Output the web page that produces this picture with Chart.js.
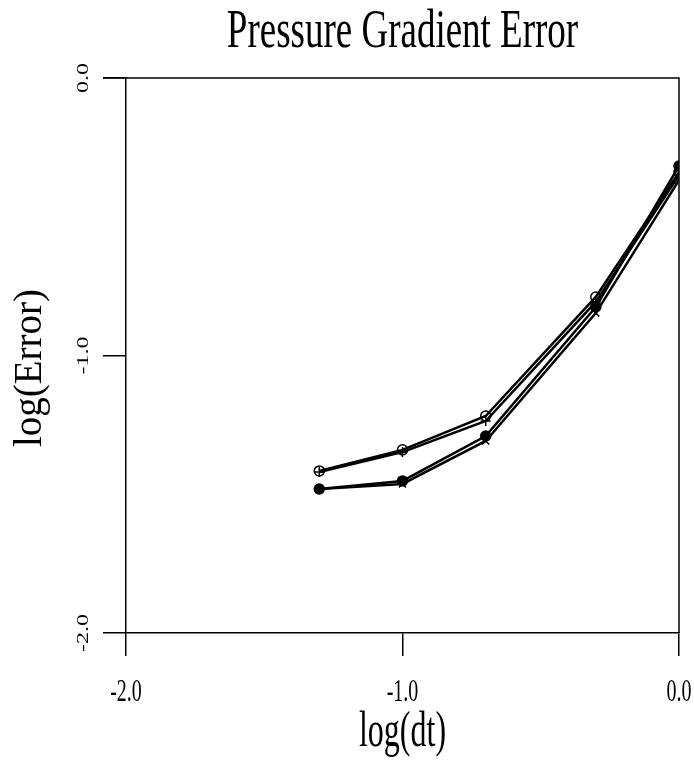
<!DOCTYPE html>
<html lang="en">

<head>
    <meta charset="UTF-8">
    <title>Pressure Gradient Error</title>
    <script src="https://cdn.jsdelivr.net/npm/chart.js@4.4.0/dist/chart.umd.min.js"></script>
    <style>
        body { margin: 0; background: #fff; }
        #wrap { width: 694px; height: 760px; }
    </style>
</head>

<body>
    <div id="wrap"><canvas id="errChart"></canvas></div>
    <script>
        // log10 of the time steps
        const logDt = [-1.301, -1.0, -0.699, -0.301, 0.0];

        // log10 of the error, one array per run
        const errOpen = [-1.416, -1.340, -1.218, -0.789, -0.339];
        const errPlus = [-1.420, -1.348, -1.236, -0.807, -0.350];
        const errFilled = [-1.481, -1.452, -1.290, -0.825, -0.317];
        const errCross = [-1.481, -1.463, -1.308, -0.847, -0.368];

        const titleText = 'Pressure Gradient Error';
        const xTitle = 'log(dt)';
        const yTitle = 'log(Error)';

        const serif = '"Liberation Serif", "DejaVu Serif", serif';

        const toPoints = ys => ys.map((y, i) => ({ x: logDt[i], y: y }));

        const makeSet = (label, ys, style, fill) => ({
            label: label,
            data: toPoints(ys),
            borderColor: '#000',
            borderWidth: 2.5,
            pointStyle: style,
            pointRadius: 5,
            pointBorderWidth: 1.5,
            pointBorderColor: '#000',
            pointBackgroundColor: fill,
            tension: 0
        });

        // the scanned figure has tall, narrow lettering, so text gets its own
        // scale: "along" runs with the text, "across" is the glyph height
        function drawText(ctx, text, x, y, size, along, across, rotate) {
            ctx.save();
            ctx.translate(x, y);
            if (rotate) {
                ctx.rotate(-Math.PI / 2);
            }
            ctx.scale(along, across);
            ctx.font = size + 'px ' + serif;
            ctx.fillStyle = '#000';
            ctx.textAlign = 'center';
            ctx.textBaseline = 'alphabetic';
            ctx.fillText(text, 0, 0);
            ctx.restore();
        }

        const textPlugin = {
            id: 'scanText',
            afterDraw(chart) {
                const ctx = chart.ctx;
                const area = chart.chartArea;
                const xs = chart.scales.x;
                const ys = chart.scales.y;

                // closing box lines
                ctx.save();
                ctx.strokeStyle = '#000';
                ctx.lineWidth = 1.5;
                ctx.beginPath();
                ctx.moveTo(area.left - 23, area.top);
                ctx.lineTo(area.right, area.top);
                ctx.lineTo(area.right, area.bottom);
                ctx.stroke();
                ctx.restore();

                drawText(ctx, titleText, (area.left + area.right) / 2, 47, 37, 1, 1.5);

                xs.ticks.forEach(t => {
                    drawText(ctx, t.value.toFixed(1), xs.getPixelForValue(t.value), 701, 20, 1, 1.55);
                });
                ys.ticks.forEach(t => {
                    drawText(ctx, t.value.toFixed(1), 88, ys.getPixelForValue(t.value), 16, 1.5, 1, true);
                });

                drawText(ctx, xTitle, (area.left + area.right) / 2, 746, 32, 1, 1.6);
                drawText(ctx, yTitle, 41, 368, 39, 1, 1, true);
            }
        };

        const config = {
            type: 'line',
            data: {
                datasets: [
                    makeSet('open circle', errOpen, 'circle', 'rgba(0,0,0,0)'),
                    makeSet('plus', errPlus, 'cross', 'rgba(0,0,0,0)'),
                    makeSet('filled circle', errFilled, 'circle', '#000'),
                    makeSet('cross', errCross, 'crossRot', 'rgba(0,0,0,0)')
                ]
            },
            options: {
                responsive: true,
                maintainAspectRatio: false,
                animation: false,
                layout: {
                    padding: { top: 78, right: 15, left: 0, bottom: 0 }
                },
                plugins: {
                    legend: { display: false },
                    title: { display: false },
                    tooltip: { enabled: false }
                },
                scales: {
                    x: {
                        type: 'linear',
                        min: -2,
                        max: 0,
                        ticks: { display: false, stepSize: 1 },
                        grid: {
                            drawOnChartArea: false,
                            drawTicks: true,
                            tickLength: 23,
                            color: '#000',
                            lineWidth: 1.5
                        },
                        border: { display: true, color: '#000', width: 1.5 },
                        afterFit(scale) { scale.height = 127; }
                    },
                    y: {
                        type: 'linear',
                        min: -2,
                        max: 0,
                        ticks: { display: false, stepSize: 1 },
                        grid: {
                            drawOnChartArea: false,
                            drawTicks: true,
                            tickLength: 23,
                            color: '#000',
                            lineWidth: 1.5
                        },
                        border: { display: true, color: '#000', width: 1.5 },
                        afterFit(scale) { scale.width = 126; }
                    }
                }
            },
            plugins: [textPlugin]
        };

        const ctx = document.getElementById('errChart').getContext('2d');
        const errChart = new Chart(ctx, config);
    </script>
</body>

</html>
